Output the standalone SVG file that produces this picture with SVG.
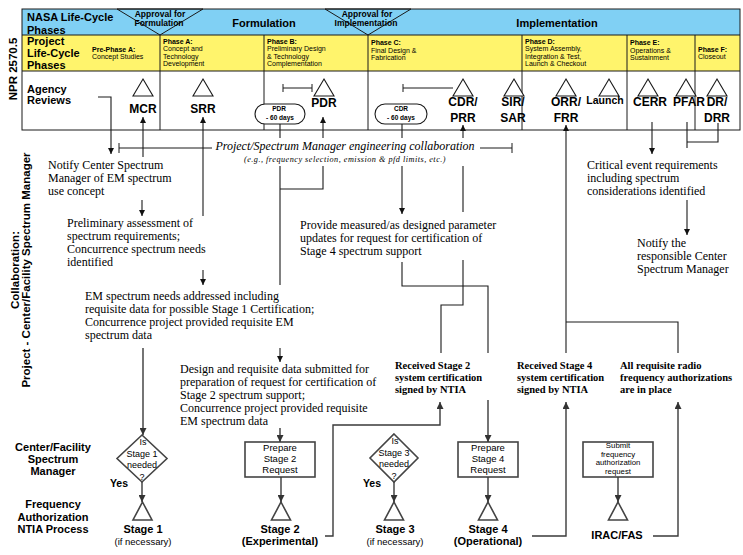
<svg xmlns="http://www.w3.org/2000/svg" width="743" height="555" viewBox="0 0 743 555">
<defs>
<marker id="ah" viewBox="0 0 10 10" refX="10" refY="5" markerWidth="7" markerHeight="6" markerUnits="userSpaceOnUse" orient="auto"><path d="M0,0 L10,5 L0,10 z" fill="#111"/></marker>
<marker id="ahg" viewBox="0 0 10 10" refX="10" refY="5" markerWidth="8" markerHeight="7" markerUnits="userSpaceOnUse" orient="auto"><path d="M0,0 L10,5 L0,10 z" fill="#333"/></marker>
</defs>
<style>
.s{font-family:"Liberation Sans",Arial,sans-serif}
.b{font-weight:bold}
.m{text-anchor:middle}
.e{text-anchor:end}
.ph{font-family:"Liberation Sans",Arial,sans-serif;font-size:7px}
.rv{font-family:"Liberation Sans",Arial,sans-serif;font-size:12px;font-weight:bold;text-anchor:middle}
.hd{font-family:"Liberation Sans",Arial,sans-serif;font-size:11px;font-weight:bold}
.sr{font-family:"Liberation Serif","Times New Roman",serif;font-size:12px}
.sub{font-family:"Liberation Serif","Times New Roman",serif;font-size:8.2px;font-style:italic;text-anchor:middle}
.rb{font-family:"Liberation Serif","Times New Roman",serif;font-size:10.5px;font-weight:bold}
.ln{fill:none;stroke:#1a1a1a;stroke-width:1}
.cn{fill:none;stroke:#1a1a1a;stroke-width:1.1}
.gn{fill:none;stroke:#3a3a3a;stroke-width:1.4}
.tri{fill:#fff;stroke:#1a1a1a;stroke-width:1.1}
.gs{fill:#fff;stroke:#444;stroke-width:1.6}
</style>
<rect width="743" height="555" fill="#fff"/>

<g id="header">
<rect x="22" y="9" width="718" height="26" fill="#80D0F4"/>
<rect x="22" y="35" width="718" height="36" fill="#FFF46C"/>
<rect x="22" y="71" width="718" height="59" fill="#fff"/>
<polygon points="117,9 203,9 160,35" fill="#80D0F4" stroke="#1a1a1a" stroke-width="1"/>
<polygon points="325,9 411,9 368,35" fill="#80D0F4" stroke="#1a1a1a" stroke-width="1"/>
<rect x="22" y="9" width="718" height="121" class="ln"/>
<path class="ln" d="M22,35 H740 M22,71 H740 M160,35 V130 M264,35 V130 M368,35 V130 M522,35 V130 M627,35 V130 M695,35 V130"/>
<text x="27" y="21" class="hd">NASA Life-Cycle</text>
<text x="27" y="33.5" class="hd">Phases</text>
<text x="160" y="17" class="s b m" font-size="8.5">Approval for</text>
<text x="159" y="25.5" class="s b m" font-size="8.5">Formulation</text>
<text x="264" y="27" class="hd m">Formulation</text>
<text x="367" y="17" class="s b m" font-size="8.5">Approval for</text>
<text x="366" y="25.5" class="s b m" font-size="8.5">Implementation</text>
<text x="557" y="27" class="hd m">Implementation</text>
<text x="27" y="45" class="hd">Project</text>
<text x="27" y="57" class="hd">Life-Cycle</text>
<text x="27" y="68.5" class="hd">Phases</text>
<text class="ph"><tspan x="92" y="51.5" class="b">Pre-Phase A:</tspan><tspan x="92" y="58.5">Concept Studies</tspan></text>
<text class="ph"><tspan x="163" y="44" class="b">Phase A:</tspan><tspan x="163" y="51.3">Concept and</tspan><tspan x="163" y="58.6">Technology</tspan><tspan x="163" y="65.9">Development</tspan></text>
<text class="ph"><tspan x="267" y="44" class="b">Phase B:</tspan><tspan x="267" y="51.3">Preliminary Design</tspan><tspan x="267" y="58.6">&amp; Technology</tspan><tspan x="267" y="65.9">Complementation</tspan></text>
<text class="ph"><tspan x="371" y="45" class="b">Phase C:</tspan><tspan x="371" y="52.5">Final Design &amp;</tspan><tspan x="371" y="60">Fabrication</tspan></text>
<text class="ph"><tspan x="525" y="44" class="b">Phase D:</tspan><tspan x="525" y="51.3">System Assembly,</tspan><tspan x="525" y="58.6">Integration &amp; Test,</tspan><tspan x="525" y="65.9">Launch &amp; Checkout</tspan></text>
<text class="ph"><tspan x="630" y="45" class="b">Phase E:</tspan><tspan x="630" y="52.5">Operations &amp;</tspan><tspan x="630" y="60">Sustainment</tspan></text>
<text class="ph"><tspan x="698" y="52" class="b">Phase F:</tspan><tspan x="698" y="59.3">Closeout</tspan></text>
<text x="27" y="93" class="hd">Agency</text>
<text x="27" y="104" class="hd">Reviews</text>
<text transform="translate(17,69) rotate(-90)" class="s b m" font-size="11.5">NPR 2570.5</text>
</g>

<g id="reviews">
<g id="mcr"><polygon class="tri" points="143,79 153,96 133,96"/><text x="143" y="113" class="rv">MCR</text></g>
<g id="srr"><polygon class="tri" points="203,79 213,96 193,96"/><text x="203" y="113" class="rv">SRR</text></g>
<g id="pdr"><polygon class="tri" points="324,79 334,96 314,96"/><text x="324" y="107" class="rv">PDR</text>
<path class="ln" d="M283,88 H312 M283,84 V92 M312,84 V92"/></g>
<g id="pdr-pill"><rect x="255" y="104" width="50" height="20" rx="10" class="tri"/><text x="279" y="111" class="s b m" font-size="6.5">PDR</text><text x="280" y="119.5" class="s b m" font-size="6.5">- 60 days</text></g>
<g id="cdr"><polygon class="tri" points="463,79 473,96 453,96"/><text x="463" y="106" class="rv">CDR/</text><text x="463" y="122" class="rv">PRR</text>
<path class="ln" d="M403,88 H453 M403,84 V92"/></g>
<g id="cdr-pill"><rect x="375" y="104" width="52" height="20" rx="10" class="tri"/><text x="401" y="111" class="s b m" font-size="6.5">CDR</text><text x="401" y="119.5" class="s b m" font-size="6.5">- 60 days</text></g>
<g id="sir"><polygon class="tri" points="514,79 524,96 504,96"/><text x="513" y="106" class="rv">SIR/</text><text x="513" y="122" class="rv">SAR</text></g>
<g id="orr"><polygon class="tri" points="566,79 576,96 556,96"/><text x="566" y="106" class="rv">ORR/</text><text x="566" y="122" class="rv">FRR</text></g>
<g id="launch"><polygon class="tri" points="609,79 619,96 599,96"/><text x="605" y="104" class="rv" style="font-size:10.5px">Launch</text></g>
<g id="cerr"><polygon class="tri" points="648,79 658,96 638,96"/><text x="650" y="106" class="rv">CERR</text></g>
<g id="pfar"><polygon class="tri" points="686,79 696,96 676,96"/><text x="689" y="106" class="rv">PFAR</text></g>
<g id="drr"><polygon class="tri" points="717,79 727,96 707,96"/><text x="717" y="106" class="rv">DR/</text><text x="717" y="122" class="rv">DRR</text></g>
</g>

<g id="labels">
<text transform="translate(19,270) rotate(-90)" class="s b m" font-size="11.5">Collaboration:</text>
<text transform="translate(30,270) rotate(-90)" class="s b m" font-size="11.5">Project - Center/Facility Spectrum Manager</text>
<text class="hd m"><tspan x="53" y="451">Center/Facility</tspan><tspan x="53" y="463">Spectrum</tspan><tspan x="53" y="475">Manager</tspan></text>
<text class="hd m"><tspan x="53" y="508">Frequency</tspan><tspan x="53" y="521">Authorization</tspan><tspan x="53" y="533">NTIA Process</tspan></text>
</g>

<g id="collab">
<text x="345" y="150" class="sr m" font-style="italic">Project/Spectrum Manager engineering collaboration</text>
<text x="345" y="161.5" class="sub" letter-spacing="0.5">(e.g., frequency selection, emission &amp; pfd limits, etc.)</text>
<path class="ln" d="M119,148 H212 M119,143 V153 M480,148 H512 M512,143 V153"/>
</g>

<g id="notify"><text class="sr"><tspan x="48" y="169">Notify Center Spectrum</tspan><tspan x="48" y="182">Manager of EM spectrum</tspan><tspan x="48" y="195">use concept</tspan></text></g>
<g id="prelim"><text class="sr"><tspan x="67" y="227">Preliminary assessment of</tspan><tspan x="67" y="240">spectrum requirements;</tspan><tspan x="67" y="253">Concurrence spectrum needs</tspan><tspan x="67" y="266">identified</tspan></text></g>
<g id="em"><text class="sr"><tspan x="85" y="299.5">EM spectrum needs addressed including</tspan><tspan x="85" y="312.8">requisite data for possible Stage 1 Certification;</tspan><tspan x="85" y="326.1">Concurrence project provided requisite EM</tspan><tspan x="85" y="339.4">spectrum data</tspan></text></g>
<g id="design"><text class="sr"><tspan x="180" y="372.5">Design and requisite data submitted for</tspan><tspan x="180" y="385.5">preparation of request for certification of</tspan><tspan x="180" y="398.5">Stage 2 spectrum support;</tspan><tspan x="180" y="411.5">Concurrence project provided requisite</tspan><tspan x="180" y="424.5">EM spectrum data</tspan></text></g>
<g id="provide"><text class="sr"><tspan x="300" y="229">Provide measured/as designed parameter</tspan><tspan x="300" y="242">updates for request for certification of</tspan><tspan x="300" y="255">Stage 4 spectrum support</tspan></text></g>
<g id="critical"><text class="sr"><tspan x="587" y="169">Critical event requirements</tspan><tspan x="587" y="182">including spectrum</tspan><tspan x="587" y="195">considerations identified</tspan></text></g>
<g id="notify-csm"><text class="sr"><tspan x="637" y="246.5">Notify the</tspan><tspan x="637" y="260">responsible Center</tspan><tspan x="637" y="273.3">Spectrum Manager</tspan></text></g>
<g id="recv2"><text class="rb"><tspan x="395" y="369">Received Stage 2</tspan><tspan x="395" y="381">system certification</tspan><tspan x="395" y="393">signed by NTIA</tspan></text></g>
<g id="recv4"><text class="rb"><tspan x="517" y="369">Received Stage 4</tspan><tspan x="517" y="381">system certification</tspan><tspan x="517" y="393">signed by NTIA</tspan></text></g>
<g id="allreq"><text class="rb"><tspan x="620" y="369">All requisite radio</tspan><tspan x="620" y="381">frequency authorizations</tspan><tspan x="620" y="393">are in place</tspan></text></g>

<g id="stage1">
<polygon class="gs" points="142,435 167,458.5 142,482 117,458.5"/>
<text class="s m" font-size="9"><tspan x="143" y="445">Is</tspan><tspan x="142" y="456.5">Stage 1</tspan><tspan x="142" y="468">needed</tspan><tspan x="142" y="479.5">?</tspan></text>
<text x="128" y="487" class="s b e" font-size="10.5">Yes</text>
<polygon class="gs" points="142.5,502 152,520 133,520"/>
<text x="143" y="533" class="s b m" font-size="11">Stage 1</text>
<text x="143" y="545" class="s m" font-size="9.5">(if necessary)</text>
</g>
<g id="stage2">
<rect x="245" y="442" width="70" height="35" class="gs"/>
<text class="s m" font-size="9.5"><tspan x="280" y="450.5">Prepare</tspan><tspan x="280" y="461.5">Stage 2</tspan><tspan x="280" y="472.5">Request</tspan></text>
<polygon class="gs" points="281,502 290.5,520 271.5,520"/>
<text x="280" y="532.5" class="s b m" font-size="11">Stage 2</text>
<text x="280" y="544.5" class="s b m" font-size="11">(Experimental)</text>
</g>
<g id="stage3">
<polygon class="gs" points="394,434 418,458 394,482 370,458"/>
<text class="s m" font-size="9"><tspan x="395" y="444">Is</tspan><tspan x="394" y="455.5">Stage 3</tspan><tspan x="394" y="467">needed</tspan><tspan x="394" y="478.5">?</tspan></text>
<text x="381" y="487" class="s b e" font-size="10.5">Yes</text>
<polygon class="gs" points="394,502 403.5,520 384.5,520"/>
<text x="395" y="533" class="s b m" font-size="11">Stage 3</text>
<text x="395" y="545" class="s m" font-size="9.5">(if necessary)</text>
</g>
<g id="stage4">
<rect x="458" y="442" width="60" height="35" class="gs"/>
<text class="s m" font-size="9.5"><tspan x="488" y="450.5">Prepare</tspan><tspan x="488" y="461.5">Stage 4</tspan><tspan x="488" y="472.5">Request</tspan></text>
<polygon class="gs" points="488,502 497.5,520 478.5,520"/>
<text x="488" y="532.5" class="s b m" font-size="11">Stage 4</text>
<text x="488" y="544.5" class="s b m" font-size="11">(Operational)</text>
</g>
<g id="irac">
<rect x="583" y="442" width="70" height="35" class="gs"/>
<text class="s m" font-size="7.8"><tspan x="618" y="448">Submit</tspan><tspan x="618" y="456.7">frequency</tspan><tspan x="618" y="465.4">authorization</tspan><tspan x="618" y="474">request</tspan></text>
<polygon class="gs" points="618,502 627.5,520 608.5,520"/>
<text x="617" y="539" class="s b m" font-size="11">IRAC/FAS</text>
</g>

<g id="connectors">
<path class="cn" d="M98,97 H111 V154" marker-end="url(#ah)"/>
<path class="cn" d="M143,157 V117" marker-end="url(#ah)"/>
<path class="cn" d="M142,200 V216" marker-end="url(#ah)"/>
<path class="cn" d="M203,216 V117" marker-end="url(#ah)"/>
<path class="cn" d="M203,270 V285" marker-end="url(#ah)"/>
<path class="cn" d="M280,124 V138 M280,166 V285"/>
<path class="cn" d="M280,348 V362" marker-end="url(#ah)"/>
<path class="cn" d="M280,189 H323 V166"/>
<path class="cn" d="M323,138 V117" marker-end="url(#ah)"/>
<path class="cn" d="M402,124 V138"/>
<path class="cn" d="M402,166 V214" marker-end="url(#ah)"/>
<path class="cn" d="M441,353 V305 H463 V260 M463,212 V166"/>
<path class="cn" d="M463,138 V125" marker-end="url(#ah)"/>
<path class="cn" d="M402,262 V286 H488 V353"/>
<path class="cn" d="M566,353 V125" marker-end="url(#ah)"/>
<path class="cn" d="M678,353 V322 H566"/>
<path class="cn" d="M652,122 V154" marker-end="url(#ah)"/>
<path class="cn" d="M687,122 V148 M718,123 V142 H687"/>
<path class="cn" d="M687,200 V235" marker-end="url(#ah)"/>
<path class="gn" d="M143,348 V435" marker-end="url(#ahg)"/>
<path class="gn" d="M142,482 V502" marker-end="url(#ahg)"/>
<path class="gn" d="M280,428 V442" marker-end="url(#ahg)"/>
<path class="gn" d="M281,477 V502" marker-end="url(#ahg)"/>
<path class="gn" d="M394,482 V502" marker-end="url(#ahg)"/>
<path class="gn" d="M488,400 V442" marker-end="url(#ahg)"/>
<path class="gn" d="M488,477 V502" marker-end="url(#ahg)"/>
<path class="gn" d="M618,477 V502" marker-end="url(#ahg)"/>
<path class="gn" d="M325,536 H333 V425 H440 V402" marker-end="url(#ahg)"/>
<path class="gn" d="M532,536 H566 V402" marker-end="url(#ahg)"/>
<path class="gn" d="M653,536 H678 V402" marker-end="url(#ahg)"/>
</g>
</svg>
